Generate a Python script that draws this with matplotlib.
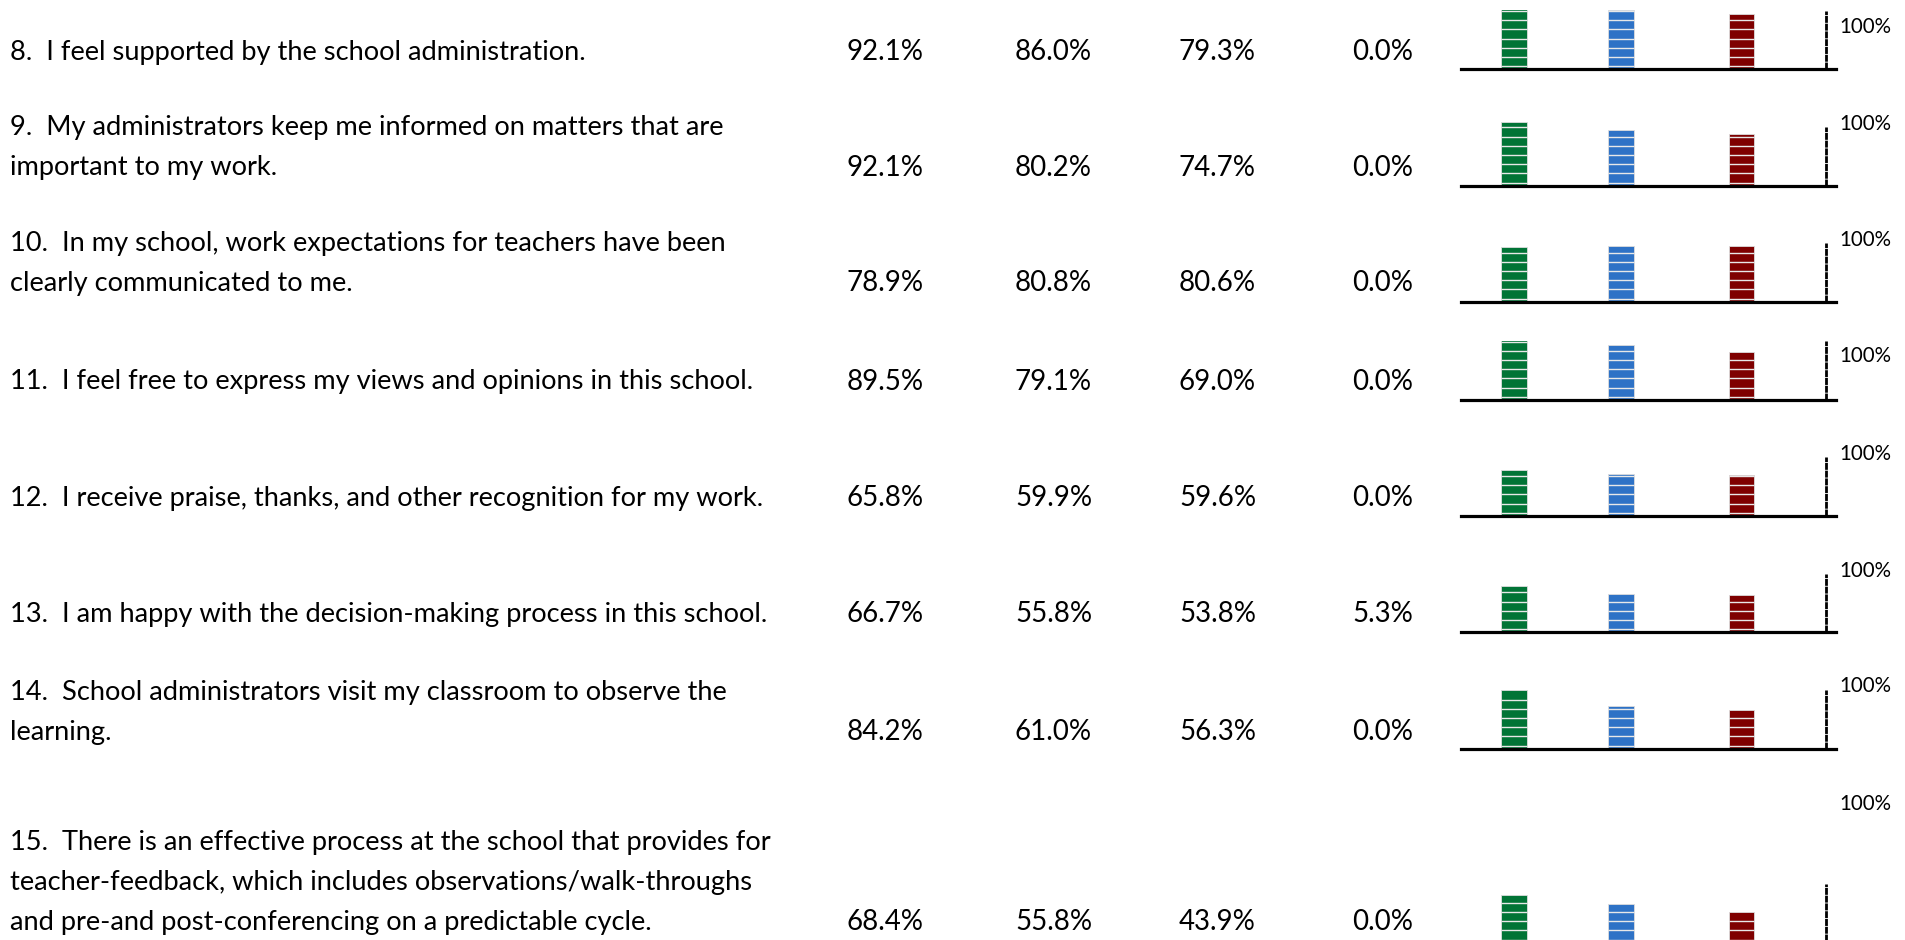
import matplotlib
matplotlib.use("Agg")
import matplotlib.pyplot as plt

# ---------------- data ----------------
questions = [
    ["8.  I feel supported by the school administration."],
    ["9.  My administrators keep me informed on matters that are",
     "important to my work."],
    ["10.  In my school, work expectations for teachers have been",
     "clearly communicated to me."],
    ["11.  I feel free to express my views and opinions in this school."],
    ["12.  I receive praise, thanks, and other recognition for my work."],
    ["13.  I am happy with the decision-making process in this school."],
    ["14.  School administrators visit my classroom to observe the",
     "learning."],
    ["15.  There is an effective process at the school that provides for",
     "teacher-feedback, which includes observations/walk-throughs",
     "and pre-and post-conferencing on a predictable cycle."],
]
col1 = [92.1, 92.1, 78.9, 89.5, 65.8, 66.7, 84.2, 68.4]
col2 = [86.0, 80.2, 80.8, 79.1, 59.9, 55.8, 61.0, 55.8]
col3 = [79.3, 74.7, 80.6, 69.0, 59.6, 53.8, 56.3, 43.9]
col4 = [0.0, 0.0, 0.0, 0.0, 0.0, 5.3, 0.0, 0.0]
axis_label = "100%"
bar_colors = ["#017436", "#2E72C6", "#7F0000"]

# ---------------- layout (pixels) ----------------
W, H = 1906, 940
FONT = "Lato"
fig = plt.figure(figsize=(W / 100, H / 100), dpi=100)

def fx(x):
    return x / W

def fy(y):
    return 1 - y / H

row_last_y = [51, 166.5, 282, 380.5, 497.2, 612.7, 730.6, 921.4]
line_gap = 40
text_x = 10
num_x = [847, 1015, 1179, 1352]
base_off = 9  # center -> baseline
q_size = 19.6
n_size = 19.9

baselines = [69.2, 185.5, 301.5, 399.8, 515.8, 632.2, 748.5, 942.5]
tops = [10, 113, 229, 341, 443, 560, 676, 870]
label_y = [26.7, 124, 239.5, 356, 454, 571, 685.6, 803.5]
ax_left, ax_right = 1461, 1836
ppp = 0.69  # pixels per percent
bar_centers_px = [1514, 1621, 1741.3]
bar_w_px = 25.4
vline_px = 1825.7
vline_h = 84.5
stripe_start_px, stripe_gap_px = 3.0, 9.2

for i, lines in enumerate(questions):
    n = len(lines)
    for k, ln in enumerate(lines):
        yc = row_last_y[i] - line_gap * (n - 1 - k)
        fig.text(fx(text_x), fy(yc + base_off), ln, fontsize=q_size,
                 family=FONT, ha="left", va="baseline", color="black")
    vals = [col1[i], col2[i], col3[i], col4[i]]
    for j, v in enumerate(vals):
        fig.text(fx(num_x[j]), fy(row_last_y[i] + base_off), f"{v:.1f}%",
                 fontsize=n_size, family=FONT, ha="left", va="baseline",
                 color="black")

    # bar panel
    b = baselines[i]
    t = tops[i]
    ax = fig.add_axes([fx(ax_left), fy(b), fx(ax_right - ax_left), (b - t) / H])
    ax.set_xlim(ax_left, ax_right)
    ax.set_ylim(0, (b - t) / ppp)
    for j, v in enumerate([col1[i], col2[i], col3[i]]):
        ax.bar(bar_centers_px[j], v, width=bar_w_px, color=bar_colors[j],
               edgecolor="#DDDDDD", linewidth=0.6, zorder=2)
        ys = []
        s = stripe_start_px
        while s / ppp < v - 1.0:
            ys.append(s / ppp)
            s += stripe_gap_px
        ax.hlines(ys, bar_centers_px[j] - bar_w_px / 2,
                  bar_centers_px[j] + bar_w_px / 2, colors="#E8E8E8",
                  linewidth=1.0, zorder=3)
    ax.plot([vline_px, vline_px], [0, vline_h], color="black", lw=2.0,
            linestyle=(0, (2.5, 0.3)), solid_capstyle="butt", zorder=3,
            clip_on=False)
    for s_ in ["top", "left", "right"]:
        ax.spines[s_].set_visible(False)
    ax.spines["bottom"].set_linewidth(2.3)
    ax.spines["bottom"].set_color("black")
    ax.spines["bottom"].set_zorder(4)
    ax.set_xticks([])
    ax.set_yticks([])
    ax.patch.set_alpha(0)

    fig.text(fx(1839), fy(label_y[i]), axis_label, fontsize=14.8, family=FONT,
             ha="left", va="center", color="black")

fig.savefig("out.png", dpi=100)
